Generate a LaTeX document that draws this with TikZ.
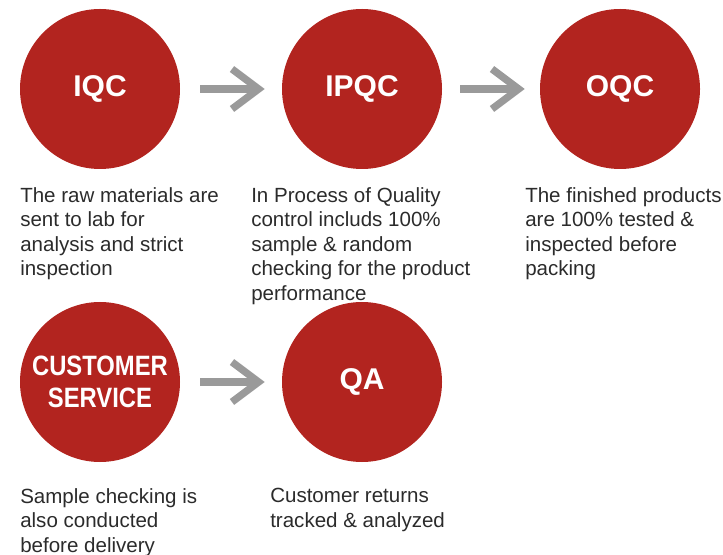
\documentclass[tikz,border=0pt]{standalone}
\usepackage{fontspec}
\setmainfont{Liberation Sans}
\newfontfamily\condfont[FakeStretch=0.85]{Liberation Sans}
\usetikzlibrary{arrows.meta}
\definecolor{circred}{HTML}{B2241F}
\definecolor{arrgray}{HTML}{9A9A9A}
\definecolor{txtgray}{HTML}{2B2B2B}
\tikzset{
  stepcircle/.style={circle, fill=circred, draw=none, minimum size=120pt, inner sep=0pt,
    text=white, font=\bfseries\fontsize{22.5pt}{24pt}\selectfont, align=center},
  condcircle/.style={stepcircle, font=\condfont\bfseries\fontsize{21pt}{24pt}\selectfont},
  desc/.style={anchor=north west, inner sep=0pt, align=left, text=txtgray,
    font=\fontsize{15.4pt}{18.4pt}\selectfont},
  flowarrow/.style={draw=arrgray, line width=5.5pt,
    -{Straight Barb[length=20pt,width=30pt,line join=miter]}},
}
\begin{document}
\begin{tikzpicture}[x=0.75pt,y=-0.75pt]
\useasboundingbox (0,0) rectangle (723,555);
\node[stepcircle] (iqc) at (100,89) {IQC};
\node[stepcircle] (ipqc) at (362,89) {IPQC};
\node[stepcircle] (oqc) at (620,89) {OQC};
\node[condcircle] (cs) at (100,382) {CUSTOMER\\SERVICE};
\node[stepcircle] (qa) at (362,382) {QA};

\draw[flowarrow] ([xshift=15pt]iqc.east) -- ([xshift=-12.75pt]ipqc.west);
\draw[flowarrow] ([xshift=13.5pt]ipqc.east) -- ([xshift=-11.25pt]oqc.west);
\draw[flowarrow] ([xshift=15pt]cs.east) -- ([xshift=-12.75pt]qa.west);

\node[desc] (t1) at (20,187) {The raw materials are\\sent to lab for\\analysis and strict\\inspection};
\node[desc] (t2) at (251,187) {In Process of Quality\\control includs 100\%\\sample \& random\\checking for the product\\performance};
\node[desc] (t3) at (525,187) {The finished products\\are 100\% tested \&\\inspected before\\packing};
\node[desc] (t4) at (20,488) {Sample checking is\\also conducted\\before delivery};
\node[desc] (t5) at (270,488) {Customer returns\\tracked \& analyzed};
\end{tikzpicture}
\end{document}
